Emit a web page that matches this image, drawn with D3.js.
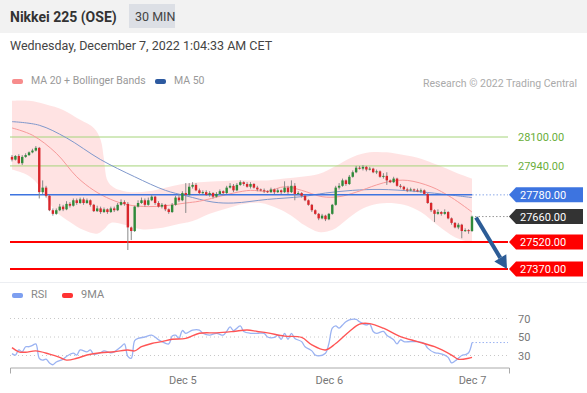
<!DOCTYPE html>
<html>
<head>
<meta charset="utf-8">
<script src="https://cdn.jsdelivr.net/npm/d3@7"></script>
<style>
body { margin: 0; background: #fff; font-family: Roboto, "Open Sans", sans-serif; }
</style>
</head>
<body>
<div id="chart"></div>
<script>
// 30 min candles, Nikkei 225 (OSE)
var opens = [
  27990, 27975, 27995, 27955, 27990, 28000, 28015, 28025, 28040, 27795,
  27820, 27775, 27695, 27675, 27695, 27715, 27700, 27730, 27720, 27750,
  27735, 27755, 27735, 27750, 27725, 27690, 27705, 27685, 27700, 27685,
  27705, 27695, 27725, 27740, 27730, 27600, 27580, 27715, 27735, 27750,
  27725, 27750, 27770, 27735, 27715, 27725, 27700, 27685, 27725, 27765,
  27750, 27790, 27780, 27825, 27835, 27805, 27790, 27795, 27780, 27790,
  27770, 27785, 27800, 27790, 27820, 27830, 27805, 27835, 27850, 27840,
  27825, 27840, 27820, 27810, 27805, 27800, 27795, 27810, 27795, 27805,
  27795, 27820, 27795, 27830, 27785, 27790, 27775, 27750, 27725, 27695,
  27675, 27650, 27665, 27645, 27675, 27725, 27820, 27830, 27860, 27840,
  27880, 27905, 27930, 27925, 27935, 27920, 27925, 27905, 27910, 27880,
  27885, 27860, 27850, 27870, 27830, 27825, 27810, 27805, 27810, 27805,
  27800, 27805, 27785, 27735, 27695, 27675, 27685, 27675, 27685, 27650,
  27625, 27600, 27615, 27580, 27585, 27580
];
var highs = [
  28000, 28000, 28005, 28000, 28010, 28020, 28035, 28050, 28045, 27860,
  27830, 27780, 27705, 27705, 27730, 27725, 27745, 27740, 27760, 27760,
  27765, 27765, 27760, 27755, 27730, 27720, 27715, 27710, 27705, 27715,
  27715, 27735, 27755, 27750, 27740, 27605, 27720, 27750, 27765, 27760,
  27765, 27780, 27775, 27745, 27735, 27730, 27705, 27735, 27775, 27785,
  27800, 27845, 27845, 27850, 27845, 27815, 27805, 27805, 27800, 27795,
  27795, 27810, 27805, 27830, 27845, 27840, 27845, 27860, 27855, 27850,
  27850, 27845, 27830, 27815, 27815, 27805, 27820, 27815, 27815, 27810,
  27855, 27830, 27860, 27845, 27800, 27795, 27780, 27755, 27730, 27700,
  27680, 27675, 27670, 27680, 27730, 27830, 27845, 27870, 27865, 27890,
  27915, 27940, 27940, 27945, 27940, 27935, 27930, 27920, 27915, 27900,
  27905, 27865, 27880, 27875, 27840, 27830, 27820, 27820, 27815, 27815,
  27815, 27810, 27790, 27740, 27700, 27700, 27690, 27700, 27690, 27655,
  27630, 27625, 27620, 27595, 27590, 27665
];
var lows = [
  27965, 27970, 27950, 27945, 27985, 27995, 28010, 28020, 27760, 27785,
  27765, 27690, 27665, 27670, 27690, 27690, 27695, 27710, 27715, 27725,
  27730, 27725, 27730, 27715, 27685, 27685, 27675, 27680, 27675, 27680,
  27685, 27690, 27720, 27720, 27475, 27530, 27575, 27710, 27730, 27715,
  27720, 27745, 27725, 27710, 27705, 27690, 27675, 27680, 27720, 27740,
  27745, 27680, 27775, 27815, 27800, 27780, 27785, 27775, 27770, 27760,
  27765, 27780, 27780, 27785, 27815, 27795, 27800, 27830, 27830, 27820,
  27815, 27815, 27800, 27800, 27790, 27790, 27790, 27785, 27790, 27785,
  27790, 27785, 27790, 27750, 27780, 27765, 27745, 27720, 27685, 27670,
  27640, 27645, 27635, 27640, 27670, 27720, 27810, 27825, 27830, 27835,
  27875, 27900, 27920, 27915, 27910, 27915, 27900, 27895, 27875, 27870,
  27835, 27845, 27845, 27825, 27815, 27805, 27795, 27800, 27795, 27795,
  27790, 27780, 27730, 27685, 27630, 27670, 27665, 27670, 27645, 27615,
  27595, 27590, 27540, 27575, 27565, 27575
];
var closes = [
  27975, 27995, 27955, 27990, 28000, 28015, 28025, 28040, 27795, 27820,
  27775, 27695, 27675, 27695, 27715, 27700, 27730, 27720, 27750, 27735,
  27755, 27735, 27750, 27725, 27690, 27705, 27685, 27700, 27685, 27705,
  27695, 27725, 27740, 27730, 27600, 27580, 27715, 27735, 27750, 27725,
  27750, 27770, 27735, 27715, 27725, 27700, 27685, 27725, 27765, 27750,
  27790, 27780, 27825, 27835, 27805, 27790, 27795, 27780, 27790, 27770,
  27785, 27800, 27790, 27820, 27830, 27805, 27835, 27850, 27840, 27825,
  27840, 27820, 27810, 27805, 27800, 27795, 27810, 27795, 27805, 27795,
  27820, 27795, 27830, 27785, 27790, 27775, 27750, 27725, 27695, 27675,
  27650, 27665, 27645, 27675, 27725, 27820, 27830, 27860, 27840, 27880,
  27905, 27930, 27925, 27935, 27920, 27925, 27905, 27910, 27880, 27885,
  27860, 27850, 27870, 27830, 27825, 27810, 27805, 27810, 27805, 27800,
  27805, 27785, 27735, 27695, 27675, 27685, 27675, 27685, 27650, 27625,
  27600, 27615, 27580, 27585, 27580, 27660
];

// indicators as [candle index, value]
var bbUpper = [[0,28300],[5,28300],[10,28280],[15,28250],[20,28195],[24,28150],[26,28085],
  [27,27975],[28,27860],[30,27820],[35,27795],[40,27800],[45,27820],[50,27840],[55,27850],
  [60,27855],[65,27860],[70,27860],[75,27860],[80,27870],[85,27880],[90,27895],[95,27940],
  [100,27990],[105,28015],[110,28015],[115,28000],[120,27980],[125,27945],[130,27905],[135,27870]];
var bbLower = [[0,27920],[5,27885],[8,27830],[10,27765],[13,27685],[17,27630],[21,27585],
  [25,27565],[27,27590],[29,27625],[33,27615],[38,27590],[43,27595],[48,27615],[53,27635],
  [58,27675],[63,27705],[68,27730],[73,27735],[78,27705],[82,27665],[86,27610],[90,27575],
  [94,27585],[98,27640],[102,27695],[106,27725],[110,27735],[115,27725],[120,27685],
  [125,27610],[130,27545],[135,27515]];
var ma20 = [[0,28150],[6,28110],[13,28010],[19,27880],[24,27805],[29,27755],[34,27725],
  [40,27715],[45,27720],[51,27735],[55,27745],[65,27790],[70,27805],[75,27800],[80,27825],
  [85,27805],[91,27770],[96,27770],[101,27795],[107,27835],[111,27855],[116,27860],
  [123,27825],[129,27765],[135,27685]];
var ma50 = [[0,28185],[8,28165],[16,28095],[26,27975],[36,27880],[45,27805],[51,27775],
  [59,27740],[65,27735],[75,27755],[85,27770],[92,27790],[100,27805],[108,27810],
  [118,27800],[126,27785],[135,27765]];

var rsi = [[0,32],[1,30.5],[2,36],[3,34],[4,39.5],[5,39.5],[6,41],[7,42.5],[8,27],[9,25],
  [10,26],[11,22],[12,20],[13,23],[15,26],[16,29],[18,32.5],[19,30.5],[20,36],[22,34],
  [23,36],[24,31.5],[26,33],[27,35],[29,33],[30,34],[32,39.5],[33,42.5],[34,29],[35,27],
  [36,46],[37,48.5],[39,50],[41,52],[43,47],[44,45],[46,42.5],[47,51],[48,52],[49,48.5],
  [50,57],[51,54],[53,57.5],[55,57.5],[56,54],[58,52],[60,54],[62,52],[63,56],[64,61],
  [65,57],[67,62],[68,56],[70,54],[72,54],[74,54],[75,50],[77,49.5],[78,52],[79,47.5],
  [80,54],[81,47.5],[82,54],[83,48.5],[85,45],[86,39.5],[88,35],[89,30.5],[90,29.5],
  [92,32.5],[93,43],[94,59.5],[95,62],[96,59.5],[97,63],[98,66.5],[99,68.5],[101,69],
  [102,66.5],[104,63],[105,64],[106,56],[107,54],[109,56],[110,52],[112,47],[113,42.5],
  [114,47],[115,45],[117,45],[119,45],[121,43],[122,38],[124,33],[125,32.5],[127,30.5],
  [128,28],[129,22],[130,24],[131,27],[132,30],[133,31],[134,33],[135,44]];
var rsiMa = [[0,38.5],[2,34],[4,33.5],[7,35],[11,31.5],[14,28],[16,25],[19,27],[22,30.5],
  [26,33],[30,34],[34,36],[36,35],[38,39.5],[41,43],[44,45],[47,47.5],[51,48.5],[55,54],
  [60,54.5],[65,56],[69,57.5],[72,56],[75,54.5],[80,51],[85,49.5],[88,41.5],[92,36],
  [95,43],[99,56],[102,64],[105,64.5],[109,59.5],[114,50.5],[119,45],[124,39.5],
  [129,30.5],[131,26],[134,27],[135,28]];

var resistances = [28100, 27940];
var pivot = 27780;
var lastPrice = 27660;
var supports = [27520, 27370];
var target = 27370;
var rsiLevels = [70, 50, 30];
var tickIdx = [50, 93, 135];
var tickLabels = ["Dec 5", "Dec 6", "Dec 7"];

var width = 587, height = 393;
var left = 10, right = 508;

var svg = d3.select("#chart").append("svg")
    .attr("width", width)
    .attr("height", height)
    .style("display", "block");

// header
svg.append("rect").attr("x", 0).attr("y", 0).attr("width", width).attr("height", 33).attr("fill", "#f2f2f2");
svg.append("text").attr("x", 10).attr("y", 22).attr("font-size", 14).attr("font-weight", "bold")
  .attr("fill", "#333").text("Nikkei 225 (OSE)");
svg.append("rect").attr("x", 129).attr("y", 4).attr("width", 46).attr("height", 24).attr("fill", "#dcdfe5");
svg.append("text").attr("x", 135).attr("y", 21).attr("font-size", 12.5).attr("fill", "#444").text("30 MIN");
svg.append("text").attr("x", 10).attr("y", 50).attr("font-size", 12.5).attr("fill", "#444")
  .text("Wednesday, December 7, 2022 1:04:33 AM CET");

// legends
function legendItem(x, y, color, label) {
  svg.append("rect").attr("x", x).attr("y", y - 4).attr("width", 11).attr("height", 5)
    .attr("rx", 2).attr("fill", color);
  svg.append("text").attr("x", x + 19).attr("y", y + 1).attr("font-size", 10.5)
    .attr("fill", "#999").text(label);
}
legendItem(12, 83, "#f78c8c", "MA 20 + Bollinger Bands");
legendItem(155, 83, "#2d5aa0", "MA 50");
svg.append("text").attr("x", 577).attr("y", 87).attr("text-anchor", "end").attr("font-size", 10.5)
  .attr("fill", "#aaa").text("Research \u00a9 2022 Trading Central");

// scales
var x = d3.scaleLinear().domain([0, closes.length - 1]).range([12, 472]);
var y = d3.scaleLinear().domain([27370, 28100]).range([269, 137]);

var lineGen = d3.line()
  .x(function(d) { return x(d[0]); })
  .y(function(d) { return y(d[1]); })
  .curve(d3.curveCatmullRom.alpha(0.5));

// bollinger band area
var bandPath = lineGen(bbUpper) + lineGen(bbLower.slice().reverse()).replace(/^M/, "L") + "Z";
svg.append("path").attr("d", bandPath).attr("fill", "#ffdede").attr("fill-opacity", 0.85);

// level lines
resistances.forEach(function(v) {
  svg.append("line").attr("x1", left).attr("x2", right).attr("y1", y(v)).attr("y2", y(v))
    .attr("stroke", "#a5d47a").attr("stroke-width", 1);
  svg.append("text").attr("x", 518).attr("y", y(v) + 4).attr("font-size", 11)
    .attr("fill", "#6aae3a").text(d3.format(".2f")(v));
});

// moving averages
svg.append("path").attr("d", lineGen(ma50)).attr("fill", "none")
  .attr("stroke", "#7f98cc").attr("stroke-width", 1);
svg.append("path").attr("d", lineGen(ma20)).attr("fill", "none")
  .attr("stroke", "#f79a9a").attr("stroke-width", 1);

// pivot line (solid then dotted)
svg.append("line").attr("x1", left).attr("x2", x(closes.length - 1)).attr("y1", y(pivot)).attr("y2", y(pivot))
  .attr("stroke", "#3d74e0").attr("stroke-width", 1.5);
svg.append("line").attr("x1", x(closes.length - 1)).attr("x2", right).attr("y1", y(pivot)).attr("y2", y(pivot))
  .attr("stroke", "#8aa8e8").attr("stroke-width", 1).attr("stroke-dasharray", "1.5,2");

supports.forEach(function(v) {
  svg.append("line").attr("x1", left).attr("x2", right).attr("y1", y(v)).attr("y2", y(v))
    .attr("stroke", "#f00").attr("stroke-width", 2);
});

svg.append("line").attr("x1", x(closes.length - 1) + 3).attr("x2", right)
  .attr("y1", y(lastPrice)).attr("y2", y(lastPrice))
  .attr("stroke", "#999").attr("stroke-width", 1).attr("stroke-dasharray", "1.5,2");

// candles
var idx = d3.range(closes.length);
var candles = svg.append("g").attr("class", "candles");
candles.selectAll("line").data(idx).enter().append("line")
  .attr("x1", function(i) { return x(i); })
  .attr("x2", function(i) { return x(i); })
  .attr("y1", function(i) { return y(highs[i]); })
  .attr("y2", function(i) { return y(lows[i]); })
  .attr("stroke", "#888").attr("stroke-width", 1);
candles.selectAll("rect").data(idx).enter().append("rect")
  .attr("x", function(i) { return x(i) - 1.2; })
  .attr("width", 2.4)
  .attr("y", function(i) { return y(Math.max(opens[i], closes[i])); })
  .attr("height", function(i) { return Math.max(1, Math.abs(y(opens[i]) - y(closes[i]))); })
  .attr("fill", function(i) { return closes[i] >= opens[i] ? "#2f8a3a" : "#d8262b"; });

// tags on the right
function tag(v, color) {
  var cy = y(v);
  svg.append("path")
    .attr("d", "M509," + cy + "L516," + (cy - 7.5) + "H583V" + (cy + 7.5) + "H516Z")
    .attr("fill", color);
  svg.append("text").attr("x", 520).attr("y", cy + 4).attr("font-size", 11)
    .attr("fill", "#fff").text(d3.format(".2f")(v));
}
tag(pivot, "#3d74e0");
tag(lastPrice, "#333");
supports.forEach(function(v) { tag(v, "#f00"); });

// projection arrow
var ax1 = x(closes.length - 1) + 4, ay1 = y(lastPrice) + 1;
var ax2 = 507, ay2 = y(target);
var ang = Math.atan2(ay2 - ay1, ax2 - ax1);
var headLen = 13, headW = 7;
var bx = ax2 - headLen * Math.cos(ang), by = ay2 - headLen * Math.sin(ang);
svg.append("line").attr("x1", ax1).attr("y1", ay1).attr("x2", bx).attr("y2", by)
  .attr("stroke", "#2c5c96").attr("stroke-width", 4);
svg.append("path")
  .attr("d", "M" + ax2 + "," + ay2 +
    "L" + (bx + headW * Math.sin(ang)) + "," + (by - headW * Math.cos(ang)) +
    "L" + (bx - headW * Math.sin(ang)) + "," + (by + headW * Math.cos(ang)) + "Z")
  .attr("fill", "#2c5c96");

// panel divider
svg.append("line").attr("x1", 0).attr("x2", width).attr("y1", 282.5).attr("y2", 282.5)
  .attr("stroke", "#eceef2").attr("stroke-width", 1);

// RSI panel
legendItem(12, 297, "#7d9ff0", "RSI");
legendItem(62, 297, "#f33", "9MA");
svg.selectAll("text").filter(function() { return this.textContent == "RSI" || this.textContent == "9MA"; })
  .attr("fill", "#888").attr("font-size", 11);

var yr = d3.scaleLinear().domain([30, 70]).range([355.5, 318.5]);

rsiLevels.forEach(function(v) {
  svg.append("line").attr("x1", left).attr("x2", right).attr("y1", yr(v)).attr("y2", yr(v))
    .attr("stroke", "#c8c8c8").attr("stroke-width", 1).attr("stroke-dasharray", "1,3");
  svg.append("text").attr("x", 518).attr("y", yr(v) + 4).attr("font-size", 11)
    .attr("fill", "#777").text(v);
});

var rsiLine = d3.line()
  .x(function(d) { return x(d[0]); })
  .y(function(d) { return yr(d[1]); })
  .curve(d3.curveCatmullRom.alpha(0.5));

svg.append("path").attr("d", rsiLine(rsi)).attr("fill", "none")
  .attr("stroke", "#9bb3f2").attr("stroke-width", 1.3);
svg.append("line").attr("x1", x(closes.length - 1)).attr("x2", right)
  .attr("y1", yr(rsi[rsi.length - 1][1])).attr("y2", yr(rsi[rsi.length - 1][1]))
  .attr("stroke", "#9bb3f2").attr("stroke-width", 1).attr("stroke-dasharray", "1.5,2");
svg.append("path").attr("d", rsiLine(rsiMa)).attr("fill", "none")
  .attr("stroke", "#f55").attr("stroke-width", 1.4);

// time axis
var xa = d3.scaleLinear().domain([x.invert(left), x.invert(509)]).range([left, 509]);
var axis = svg.append("g").attr("transform", "translate(0,367.5)")
  .call(d3.axisBottom(xa).tickValues(tickIdx).tickSizeInner(0).tickSizeOuter(6).tickPadding(9)
    .tickFormat(function(d, i) { return tickLabels[i]; }));
axis.select(".domain").attr("stroke", "#aaa");
axis.selectAll("text").attr("font-size", 11).attr("fill", "#777")
  .attr("font-family", "Roboto, 'Open Sans', sans-serif");
</script>
</body>
</html>
